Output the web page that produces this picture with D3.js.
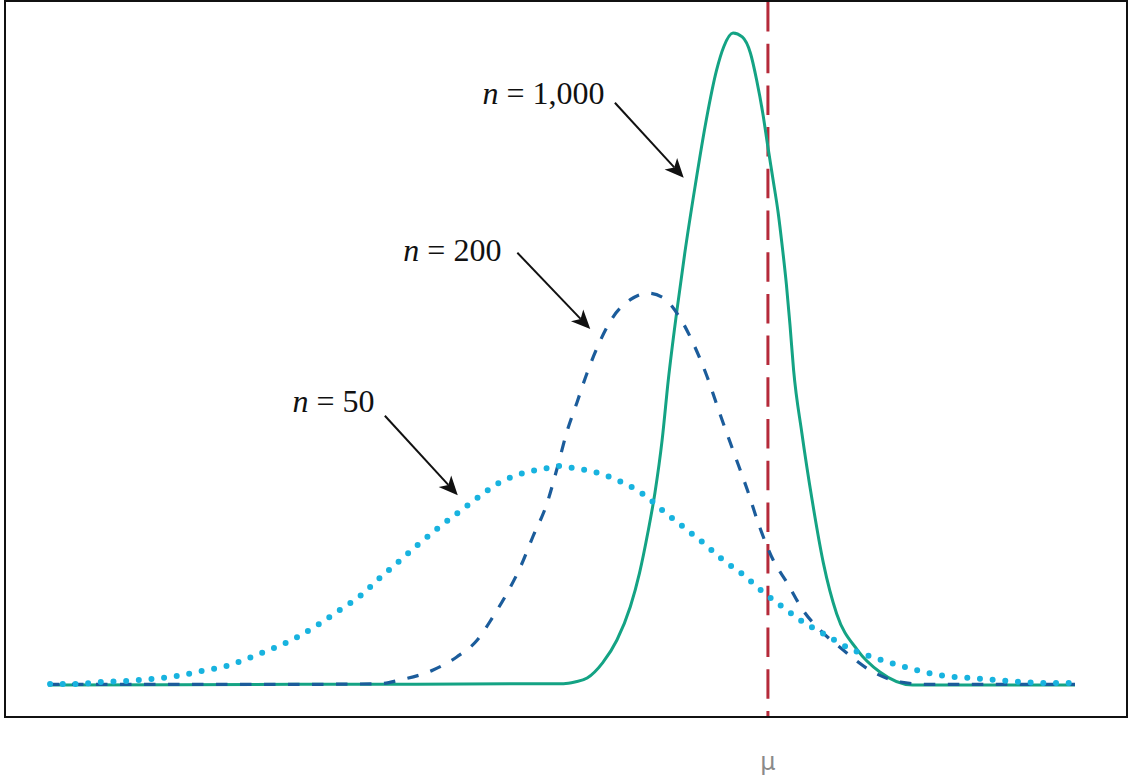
<!DOCTYPE html>
<html>
<head>
<meta charset="utf-8">
<script src="https://cdn.jsdelivr.net/npm/d3@7"></script>
<style>
  html, body { margin: 0; padding: 0; background: #fff; }
  svg { display: block; }
</style>
</head>
<body>
<svg id="chart" width="1130" height="784"></svg>
<script>
// ---- data (x and density in arbitrary units) ----
const n50X = [0.2, 2.6, 5.2, 7.6, 10.0, 12.6, 15.0, 17.4, 19.8, 22.0, 24.3, 26.4, 28.4, 30.5, 32.3, 34.2, 36.0, 38.0, 39.9, 41.9, 43.9, 46.3, 48.7, 49.9, 51.1, 53.6, 55.9, 58.1, 59.9, 61.9, 63.8, 65.7, 67.7, 69.6, 71.5, 73.5, 75.7, 77.8, 80.2, 82.5, 84.9, 87.3, 89.8, 92.2, 94.7, 97.2, 99.7];
const n50Y = [0.15, 0.15, 0.46, 0.61, 0.92, 1.38, 2.15, 2.91, 4.29, 5.67, 7.36, 9.36, 11.5, 13.8, 16.4, 19.0, 21.5, 24.1, 26.4, 28.8, 31.0, 32.5, 33.3, 33.6, 33.3, 32.5, 31.1, 29.1, 26.7, 24.2, 21.8, 19.2, 16.9, 14.3, 12.0, 9.7, 7.7, 5.8, 4.3, 3.2, 2.15, 1.38, 1.07, 0.77, 0.46, 0.31, 0.31];

const n200X = [0, 14.8, 24.5, 32.3, 34.3, 37.5, 39.8, 41.8, 43.3, 44.7, 46.0, 47.2, 48.6, 49.6, 50.5, 51.5, 52.5, 53.8, 55.0, 56.7, 58.4, 59.9, 61.5, 62.8, 64.2, 65.4, 66.7, 68.1, 69.3, 70.6, 72.0, 73.5, 75.2, 77.4, 80.0, 83.0, 85.6, 92.7, 100];
const n200Y = [0.1, 0.1, 0.1, 0.2, 0.77, 2.3, 4.3, 6.9, 10.4, 14.1, 18.1, 22.7, 27.9, 33.4, 38.7, 43.3, 47.9, 52.9, 56.4, 59.1, 60.1, 59.4, 56.4, 52.5, 47.2, 41.7, 36.0, 29.9, 24.2, 19.2, 15.6, 11.5, 8.4, 5.4, 2.3, 0.46, 0.1, 0.1, 0.1];

const n1000X = [0, 24.5, 50.2, 51.3, 52.5, 54.0, 55.4, 56.7, 57.6, 58.4, 59.1, 59.8, 60.4, 61.2, 62.0, 63.0, 64.1, 65.1, 65.8, 66.7, 67.6, 68.4, 69.0, 69.6, 70.1, 70.6, 71.1, 71.5, 71.9, 72.25, 72.6, 73.4, 74.4, 75.5, 76.8, 78.8, 81.0, 84.2, 100];
const n1000Y = [0, 0.1, 0.2, 0.46, 1.07, 3.4, 6.9, 12.0, 17.2, 23.3, 29.5, 37.6, 46.8, 57.0, 66.2, 76.4, 86.7, 94.3, 97.9, 100, 99.4, 96.9, 92.8, 87.7, 82.5, 77.5, 72.4, 67.2, 61.4, 55.2, 48.3, 38.7, 28.4, 18.7, 10.9, 5.4, 2.0, 0, 0];

const seriesNames = ["n = 50", "n = 200", "n = 1,000"];
const sampleSizes = ["50", "200", "1,000"];
const muValue = 70.1;
const muLabel = "\u03bc";

// ---- layout ----
const svg = d3.select("#chart");
const x = d3.scaleLinear().domain([0, 100]).range([48, 1075]);
const y = d3.scaleLinear().domain([0, 100]).range([685, 33]);
const serifFont = "'Liberation Serif', 'Times New Roman', Tinos";

// frame
svg.append("rect")
  .attr("x", 5).attr("y", 1).attr("width", 1122).attr("height", 716)
  .attr("fill", "none").attr("stroke", "#111").attr("stroke-width", 2);

// mu line
svg.append("line")
  .attr("x1", x(muValue)).attr("x2", x(muValue))
  .attr("y1", 2).attr("y2", 716)
  .attr("stroke", "#b52a3a").attr("stroke-width", 3)
  .attr("stroke-dasharray", "29.5 12.2");

svg.append("text")
  .attr("x", x(muValue)).attr("y", 770)
  .attr("text-anchor", "middle")
  .attr("font-family", "'DejaVu Sans'")
  .attr("font-size", 24)
  .attr("fill", "#8a8a8a")
  .text(muLabel);

const line = d3.line()
  .x(d => x(d[0]))
  .y(d => y(d[1]))
  .curve(d3.curveMonotoneX);

const zip = (a, b) => a.map((v, i) => [v, b[i]]);

// n = 1,000 solid green
svg.append("path")
  .datum(zip(n1000X, n1000Y))
  .attr("d", line)
  .attr("fill", "none")
  .attr("stroke", "#14a384")
  .attr("stroke-width", 3);

// n = 200 dashed blue
svg.append("path")
  .datum(zip(n200X, n200Y))
  .attr("d", line)
  .attr("fill", "none")
  .attr("stroke", "#1b5c9b")
  .attr("stroke-width", 3.2)
  .attr("stroke-dasharray", "11.5 12.5");

// n = 50 dotted cyan
svg.append("path")
  .datum(zip(n50X, n50Y))
  .attr("d", line)
  .attr("fill", "none")
  .attr("stroke", "#18b3df")
  .attr("stroke-width", 6)
  .attr("stroke-linecap", "round")
  .attr("stroke-dasharray", "0 12.7");

// ---- annotations (label position, arrow start, arrow tip in data units) ----
const annotations = [
  { label: sampleSizes[2], tx: 42.3, ty: 89.1, x1: 55.2, y1: 89.3, x2: 61.9, y2: 77.8 },
  { label: sampleSizes[1], tx: 34.6, ty: 65.0, x1: 45.7, y1: 66.3, x2: 52.8, y2: 54.6 },
  { label: sampleSizes[0], tx: 23.8, ty: 41.9, x1: 32.8, y1: 41.3, x2: 39.9, y2: 29.1 }
];

annotations.forEach(a => {
  const t = svg.append("text")
    .attr("x", x(a.tx)).attr("y", y(a.ty))
    .attr("font-family", serifFont)
    .attr("font-size", 32)
    .attr("fill", "#111");
  t.append("tspan").attr("font-family", serifFont).attr("font-style", "italic").text("n");
  t.append("tspan").attr("font-family", serifFont).text(" = " + a.label);

  const sx = x(a.x1), sy = y(a.y1), ex = x(a.x2), ey = y(a.y2);
  const ang = Math.atan2(ey - sy, ex - sx);
  const L = 19, W = 8.5, notch = 5;
  const ux = Math.cos(ang), uy = Math.sin(ang);
  const px = -uy, py = ux;
  const bx = ex - ux * L, by = ey - uy * L;
  const nx = ex - ux * (L - notch), ny = ey - uy * (L - notch);
  svg.append("line")
    .attr("x1", sx).attr("y1", sy)
    .attr("x2", nx).attr("y2", ny)
    .attr("stroke", "#111").attr("stroke-width", 2);
  svg.append("path")
    .attr("d", `M${ex},${ey} L${bx + px * W},${by + py * W} L${nx},${ny} L${bx - px * W},${by - py * W} Z`)
    .attr("fill", "#111");
});
</script>
</body>
</html>
